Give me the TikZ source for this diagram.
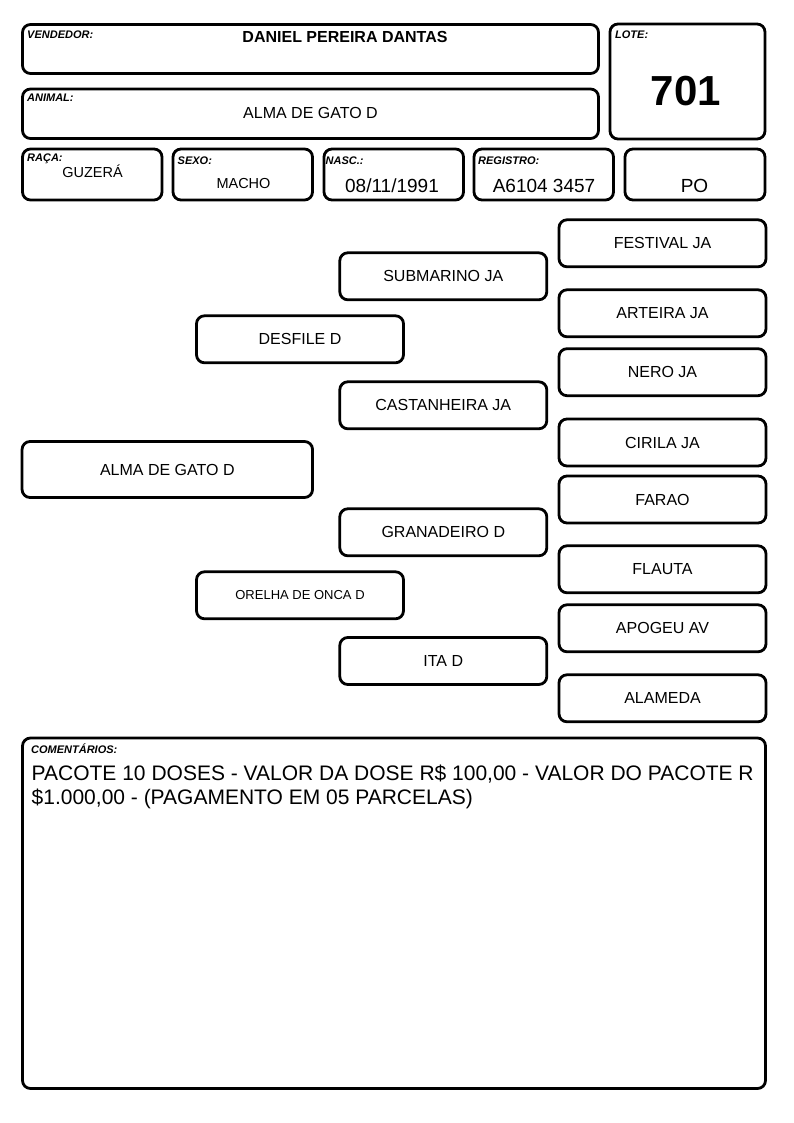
\documentclass[tikz,border=0pt]{standalone}
\usepackage{fontspec}
\setmainfont{Liberation Sans}
\usetikzlibrary{positioning}

\begin{document}
\begin{tikzpicture}[x=1pt,y=-1pt,
                    box/.style={draw,line width=2.8pt,rounded corners=8pt,inner sep=0pt},
                    horse/.style={box,minimum width=207pt,minimum height=47pt,font=\fontsize{16}{19}\selectfont},
                    tag/.style={anchor=base west,inner sep=0pt,font=\fontsize{11}{13}\selectfont\bfseries\itshape},
                    value/.style={anchor=base,inner sep=0pt}]
  \useasboundingbox (0,0) rectangle (794,1123);
  % header fields
  \node[box,minimum width=576pt,minimum height=49pt] (vend) at (310.5,49) {};
  \node[box,minimum width=155pt,minimum height=115pt] (lote) at (687.5,81.5) {};
  \node[box,minimum width=576pt,minimum height=49.5pt] (anim) at (310.5,113.75) {};
  \node[box,minimum width=139.5pt,minimum height=51pt] (raca) at (92.25,174.5) {};
  \node[box,minimum width=139.5pt,minimum height=51pt] (sexo) at (242.75,174.5) {};
  \node[box,minimum width=139.5pt,minimum height=51pt] (nasc) at (393.75,174.5) {};
  \node[box,minimum width=139.5pt,minimum height=51pt] (reg) at (543.75,174.5) {};
  \node[box,minimum width=140pt,minimum height=51pt] (po) at (695,174.5) {};
  \node[tag] at (27,39) {VENDEDOR:};
  \node[value,font=\fontsize{16}{19}\selectfont\bfseries] at (345,43) {DANIEL PEREIRA DANTAS};
  \node[tag] at (615,39) {LOTE:};
  \node[value,font=\fontsize{42}{48}\selectfont\bfseries] at (686,105.5) {701};
  \node[tag] at (27,102) {ANIMAL:};
  \node[value,font=\fontsize{16}{19}\selectfont] at (310.5,119) {ALMA DE GATO D};
  \node[tag] at (27,162) {RAÇA:};
  \node[value,font=\fontsize{14.5}{17}\selectfont] at (92.5,178) {GUZERÁ};
  \node[tag] at (177.5,165) {SEXO:};
  \node[value,font=\fontsize{14.5}{17}\selectfont] at (243.5,189) {MACHO};
  \node[tag] at (325.5,165) {NASC.:};
  \node[value,font=\fontsize{19}{22}\selectfont] at (392,193) {08/11/1991};
  \node[tag] at (478,165) {REGISTRO:};
  \node[value,font=\fontsize{19}{22}\selectfont] at (544,193) {A6104 3457};
  \node[value,font=\fontsize{19}{22}\selectfont] at (694.5,193) {PO};
  % pedigree
  \node[horse,minimum width=290.5pt,minimum height=56pt] (1) at (167.3,469.5) {ALMA DE GATO D};
  \node[horse] (2) at (300,339.3) {DESFILE D};
  \node[horse,font=\fontsize{13}{16}\selectfont] (3) at (300,595.3) {ORELHA DE ONCA D};
  \node[horse] (4) at (443.3,276.3) {SUBMARINO JA};
  \node[horse] (5) at (443.3,405.3) {CASTANHEIRA JA};
  \node[horse] (6) at (443.3,532.3) {GRANADEIRO D};
  \node[horse] (7) at (443.3,661) {ITA D};
  \node[horse] (8) at (662.5,243.3) {FESTIVAL JA};
  \node[horse] (9) at (662.5,313.3) {ARTEIRA JA};
  \node[horse] (10) at (662.5,372.2) {NERO JA};
  \node[horse] (11) at (662.5,442.5) {CIRILA JA};
  \node[horse] (12) at (662.5,499.5) {FARAO};
  \node[horse] (13) at (662.5,569.3) {FLAUTA};
  \node[horse] (14) at (662.5,628.3) {APOGEU AV};
  \node[horse] (15) at (662.5,698.3) {ALAMEDA};
  % comments
  \node[box,minimum width=743pt,minimum height=350.5pt] (com) at (394,913.25) {};
  \node[tag] at (31,753) {COMENTÁRIOS:};
  \node[anchor=base west,inner sep=0pt,align=left,font=\fontsize{21}{23.5}\selectfont] at (31.5,804)
    {PACOTE 10 DOSES - VALOR DA DOSE R\$ 100,00 - VALOR DO PACOTE R\\\$1.000,00 - (PAGAMENTO EM 05 PARCELAS)};
\end{tikzpicture}
\end{document}
